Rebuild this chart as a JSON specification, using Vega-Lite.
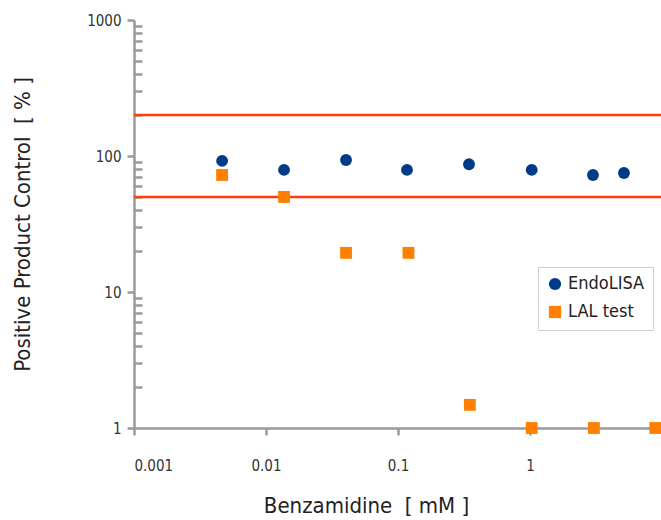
{
  "$schema": "https://vega.github.io/schema/vega-lite/v6.json",
  "width": 528,
  "height": 408,
  "autosize": {"type": "none"},
  "padding": {"left": 134, "top": 20, "right": 0, "bottom": 92},
  "background": "white",
  "config": {
    "view": {"stroke": null},
    "font": "Liberation Sans Narrow, DejaVu Sans Condensed, sans-serif"
  },
  "datasets": {
    "points": [
      {"conc": 0.00465, "value": 92, "assay": "EndoLISA"},
      {"conc": 0.0137, "value": 79, "assay": "EndoLISA"},
      {"conc": 0.0404, "value": 93.5, "assay": "EndoLISA"},
      {"conc": 0.117, "value": 79, "assay": "EndoLISA"},
      {"conc": 0.345, "value": 87, "assay": "EndoLISA"},
      {"conc": 1.03, "value": 79, "assay": "EndoLISA"},
      {"conc": 3.0, "value": 72.5, "assay": "EndoLISA"},
      {"conc": 5.15, "value": 75, "assay": "EndoLISA"},
      {"conc": 0.00465, "value": 72.5, "assay": "LAL test"},
      {"conc": 0.0137, "value": 50, "assay": "LAL test"},
      {"conc": 0.0404, "value": 19.4, "assay": "LAL test"},
      {"conc": 0.12, "value": 19.4, "assay": "LAL test"},
      {"conc": 0.35, "value": 1.48, "assay": "LAL test"},
      {"conc": 1.03, "value": 1, "assay": "LAL test"},
      {"conc": 3.05, "value": 1, "assay": "LAL test"},
      {"conc": 8.9, "value": 1, "assay": "LAL test"}
    ],
    "limits": [{"limit": 50}, {"limit": 200}]
  },
  "layer": [
    {
      "data": {"name": "limits"},
      "mark": {"type": "rule", "color": "#ff3c0a", "strokeWidth": 2.5},
      "encoding": {
        "y": {"field": "limit", "type": "quantitative", "scale": {"type": "log", "domain": [1, 1000]}}
      }
    },
    {
      "data": {"name": "points"},
      "mark": {"type": "point", "filled": true, "opacity": 1, "size": 140},
      "encoding": {
        "x": {
          "field": "conc", "type": "quantitative",
          "scale": {"type": "log", "domain": [0.001, 10], "nice": false},
          "axis": {
            "title": "Benzamidine\u00a0\u00a0[ mM ]",
            "values": [0.001, 0.01, 0.1, 1],
            "labelExpr": "datum.value == 0.001 ? '0.001' : datum.value == 0.01 ? '0.01' : datum.value == 0.1 ? '0.1' : '1'",
            "grid": false,
            "domainColor": "#9a9a9a", "domainWidth": 2.5,
            "tickColor": "#9a9a9a", "tickWidth": 2.5, "tickSize": 7,
            "labelFontSize": 15, "labelColor": "#333333", "labelPadding": 23,
            "titleFontSize": 22, "titleFontWeight": "normal", "titleColor": "#222222",
            "titleX": 232, "titleY": 84, "titleAlign": "center", "titleBaseline": "alphabetic"
          }
        },
        "y": {
          "field": "value", "type": "quantitative",
          "scale": {"type": "log", "domain": [1, 1000], "nice": false},
          "axis": {
            "title": "Positive Product Control\u00a0\u00a0[ % ]",
            "values": [1, 2, 3, 4, 5, 6, 7, 8, 9, 10, 20, 30, 40, 50, 60, 70, 80, 90, 100, 200, 300, 400, 500, 600, 700, 800, 900, 1000],
            "labelExpr": "(datum.value == 1 || datum.value == 10 || datum.value == 100 || datum.value == 1000) ? format(datum.value, 'd') : ''",
            "tickSize": {"condition": {"test": "datum.value == 1 || datum.value == 10 || datum.value == 100 || datum.value == 1000", "value": 7}, "value": -8},
            "grid": false,
            "domainColor": "#9a9a9a", "domainWidth": 2.5,
            "tickColor": "#9a9a9a", "tickWidth": 2.5,
            "labelFontSize": 15, "labelColor": "#333333", "labelPadding": 6,
            "titleFontSize": 22, "titleFontWeight": "normal", "titleColor": "#222222",
            "titleX": -105, "titleAngle": -90, "titleBaseline": "alphabetic"
          }
        },
        "color": {
          "field": "assay", "type": "nominal",
          "scale": {"domain": ["EndoLISA", "LAL test"], "range": ["#003b87", "#ff8000"]},
          "legend": {
            "title": null,
            "orient": "none", "legendX": 404, "legendY": 247,
            "labelFontSize": 18, "labelColor": "#222222", "labelOffset": 4,
            "symbolSize": 150, "symbolOpacity": 1,
            "strokeColor": "#d0d0d0", "padding": 8, "rowPadding": 8,
            "fillColor": "white"
          }
        },
        "shape": {
          "field": "assay", "type": "nominal",
          "scale": {"domain": ["EndoLISA", "LAL test"], "range": ["circle", "square"]}
        }
      }
    }
  ]
}
